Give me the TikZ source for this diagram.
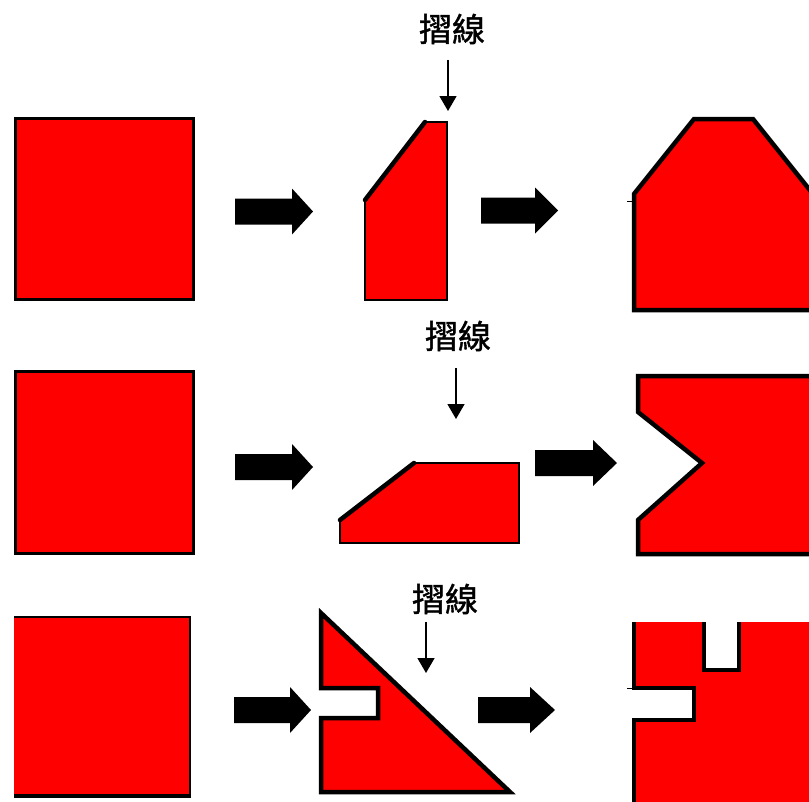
\documentclass[tikz,border=0pt]{standalone}
\usepackage{fontspec}
\newfontfamily\cjk[AutoFakeBold=1.2]{Noto Sans CJK TC}
\usetikzlibrary{arrows.meta}
\newcommand{\barrow}[4]{%
  \fill[black] (#1,#4-13) -- (#2,#4-13) -- (#2,#4-23) -- (#3,#4) -- (#2,#4+23) -- (#2,#4+13) -- (#1,#4+13) -- cycle;}
\begin{document}
\begin{tikzpicture}[x=1pt,y=-1pt,
  redfill/.style={fill=red},
  edge/.style={draw=black,line width=3pt,line join=miter},
  thinedge/.style={draw=black,line width=1.6pt},
  label/.style={font=\cjk\bfseries\fontsize{33}{33}\selectfont,inner sep=0pt},
  fold/.style={draw=black,line width=1.4pt,-{Triangle[width=17pt,length=15pt]}}]
\useasboundingbox (0,0) rectangle (809,801);
\clip (0,0) rectangle (809,801);

% ---------- Row 1 ----------
\filldraw[redfill,edge] (15,118) rectangle (193,299);
\barrow{235}{292}{313}{211.5}
\filldraw[redfill,thinedge] (365,200) -- (425,122) -- (447,122) -- (447,300) -- (365,300) -- cycle;
\draw[edge,line width=4.5pt,line cap=round] (365,200) -- (425,122);
\draw[black,line width=2.5pt] (447,122) -- (447,300);
\node[label] (t1) at (452,29) {摺線};
\coordinate (d1s) at (448,60);
\coordinate (d1e) at (448,111);
\draw[fold] (d1s) -- (d1e);
\barrow{481}{535}{558}{210.5}
\filldraw[redfill,edge,line width=4.5pt] (634,310) -- (634,194) -- (694,119) -- (753,119) -- (813,194) -- (813,310) -- cycle;
\draw[black,line width=1pt] (627,201) -- (634,201);

% ---------- Row 2 ----------
\filldraw[redfill,edge] (15,371) rectangle (193,553);
\barrow{235}{292}{313}{467}
\filldraw[redfill,thinedge] (340,520) -- (414,463) -- (519,463) -- (519,543) -- (340,543) -- cycle;
\draw[edge,line width=4.5pt,line cap=round] (340,520) -- (414,463);
\node[label] (t2) at (458,336) {摺線};
\coordinate (d2s) at (456,368);
\coordinate (d2e) at (456,419);
\draw[fold] (d2s) -- (d2e);
\barrow{535}{593}{617}{463}
\filldraw[redfill,edge,line width=4.5pt] (638,376) -- (820,376) -- (820,554) -- (638,554) -- (638,520) -- (702,463) -- (638,412) -- cycle;

% ---------- Row 3 ----------
\fill[red] (14,617) rectangle (190,797);
\draw[black,line width=1.6pt] (14,617) -- (190,617) -- (190,797);
\draw[black,line width=3.5pt] (14,796) -- (191,796);
\barrow{234}{290}{311}{710}
\filldraw[redfill,edge,line width=4.5pt] (321,613) -- (510,792) -- (321,792) -- (321,718) -- (378,718) -- (378,688) -- (321,688) -- cycle;
\node[label] (t3) at (445,599) {摺線};
\coordinate (d3s) at (426,622);
\coordinate (d3e) at (426,673);
\draw[fold] (d3s) -- (d3e);
\barrow{478}{530}{555}{710}
\fill[red] (634,622) -- (702,622) -- (702,670) -- (740,670) -- (740,622) -- (820,622) -- (820,810) -- (634,810) -- (634,720) -- (695,720) -- (695,688) -- (634,688) -- cycle;
\draw[edge,line width=4pt] (704,622) -- (704,670) -- (739,670) -- (739,622);
\draw[edge,line width=4pt] (634,622) -- (634,688) -- (694,688) -- (694,720) -- (634,720) -- (634,810);
\draw[black,line width=1pt] (627,688) -- (634,688);
\end{tikzpicture}
\end{document}
